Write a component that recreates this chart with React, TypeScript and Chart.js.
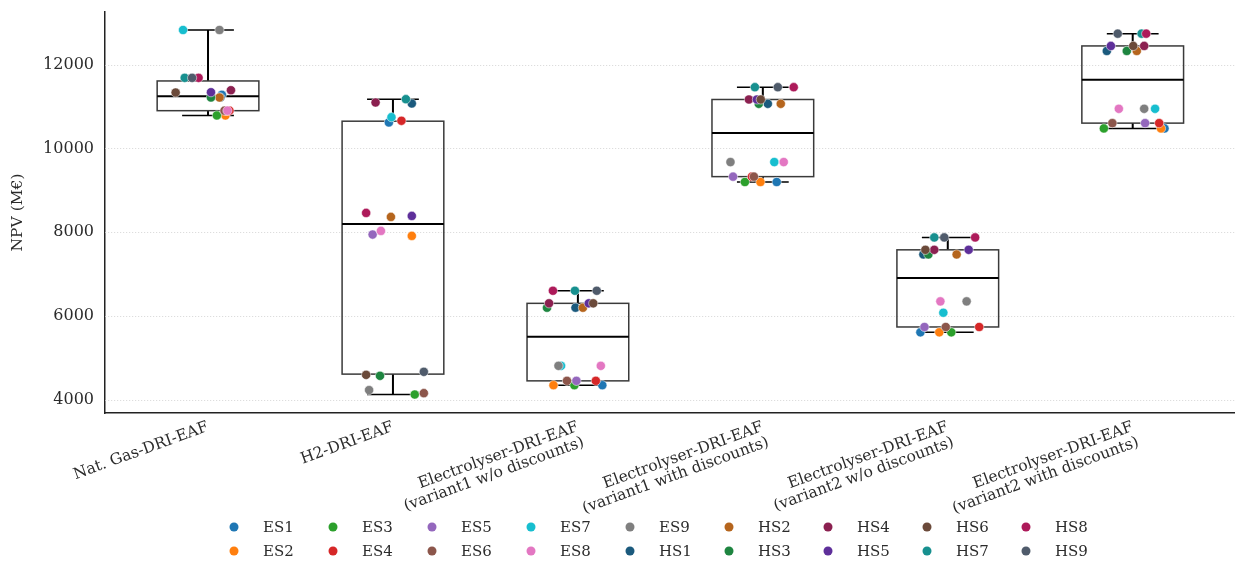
import React, { useEffect, useRef } from "react";
import { Chart, registerables } from "chart.js";

Chart.register(...registerables);

// ---------- data ----------
const CATEGORIES: string[][] = [
  ["Nat. Gas-DRI-EAF"],
  ["H2-DRI-EAF"],
  ["Electrolyser-DRI-EAF", "(variant1 w/o discounts)"],
  ["Electrolyser-DRI-EAF", "(variant1 with discounts)"],
  ["Electrolyser-DRI-EAF", "(variant2 w/o discounts)"],
  ["Electrolyser-DRI-EAF", "(variant2 with discounts)"],
];

const SCENARIOS = [
  "ES1", "ES2", "ES3", "ES4", "ES5", "ES6", "ES7", "ES8", "ES9",
  "HS1", "HS2", "HS3", "HS4", "HS5", "HS6", "HS7", "HS8", "HS9",
];

// NPV (M€) per scenario, one value per category (same order as CATEGORIES)
const ES1 = [11278, 10619, 4349, 9198, 5611, 10476];
const ES2 = [10786, 7912, 4349, 9198, 5611, 10476];
const ES3 = [10786, 4126, 4349, 9198, 5611, 10476];
const ES4 = [10900, 10659, 4452, 9326, 5738, 10603];
const ES5 = [10900, 7944, 4452, 9326, 5738, 10603];
const ES6 = [10900, 4159, 4452, 9326, 5738, 10603];
const ES7 = [12826, 10745, 4810, 9674, 6078, 10945];
const ES8 = [10900, 8031, 4810, 9674, 6349, 10945];
const ES9 = [12826, 4231, 4810, 9674, 6349, 10945];
const HS1 = [11214, 11071, 6198, 11064, 7469, 12326];
const HS2 = [11214, 8365, 6198, 11064, 7469, 12326];
const HS3 = [11214, 4572, 6198, 11064, 7469, 12326];
const HS4 = [11388, 11095, 6302, 11167, 7579, 12445];
const HS5 = [11340, 8388, 6302, 11167, 7579, 12445];
const HS6 = [11333, 4595, 6302, 11167, 7579, 12445];
const HS7 = [11683, 11174, 6603, 11460, 7874, 12738];
const HS8 = [11683, 8460, 6603, 11460, 7874, 12738];
const HS9 = [11683, 4667, 6603, 11460, 7874, 12738];

const VALUES = [ES1, ES2, ES3, ES4, ES5, ES6, ES7, ES8, ES9, HS1, HS2, HS3, HS4, HS5, HS6, HS7, HS8, HS9];

const Y_TICKS = [4000, 6000, 8000, 10000, 12000];

// ---------- styles / positions ----------
const COLORS = [
  "#1f77b4", "#ff7f0e", "#2ca02c", "#d62728", "#9467bd", "#8c564b", "#17becf", "#e377c2", "#7f7f7f",
  "#1b5a7d", "#b5651d", "#1e8540", "#8b2050", "#5e2f9a", "#6b4a3a", "#17908f", "#ad1a5a", "#4f5b6b",
];

// strip-plot horizontal jitter (category units)
const JITTER = [
  [0.075, -0.022, 0.132, 0.075, -0.148, 0.172],
  [0.094, 0.102, -0.132, -0.013, -0.046, 0.153],
  [0.048, 0.118, -0.019, -0.097, 0.019, -0.156],
  [0.116, 0.046, 0.097, -0.059, 0.170, 0.143],
  [0.097, -0.110, -0.008, -0.161, -0.126, 0.067],
  [0.089, 0.167, -0.059, -0.048, -0.011, -0.110],
  [-0.135, -0.008, -0.091, 0.062, -0.024, 0.121],
  [0.105, -0.065, 0.124, 0.113, -0.040, -0.075],
  [0.062, -0.129, -0.105, -0.175, 0.102, 0.062],
  [0.067, 0.102, -0.013, 0.027, -0.132, -0.140],
  [0.062, -0.011, 0.027, 0.097, 0.048, 0.022],
  [0.016, -0.070, -0.167, -0.022, -0.105, -0.032],
  [0.124, -0.094, -0.156, -0.075, -0.073, 0.062],
  [0.016, 0.102, 0.059, -0.032, 0.113, -0.118],
  [-0.175, -0.145, 0.083, -0.011, -0.121, 0.003],
  [-0.126, 0.070, -0.016, -0.043, -0.073, 0.048],
  [-0.051, -0.145, -0.135, 0.167, 0.148, 0.073],
  [-0.086, 0.167, 0.102, 0.081, -0.019, -0.081],
];

const FONT = "'DejaVu Serif', serif";
const TEXT_COLOR = "#2b2b2b";
const BOX_HALF = 0.275;
const CAP_HALF = 0.14;

function quantile(sorted: number[], p: number): number {
  const pos = (sorted.length - 1) * p;
  const lo = Math.floor(pos);
  const hi = Math.ceil(pos);
  return sorted[lo] + (sorted[hi] - sorted[lo]) * (pos - lo);
}

function boxStats(ci: number) {
  const vals = VALUES.map((s) => s[ci]).sort((a, b) => a - b);
  return {
    min: vals[0],
    q1: quantile(vals, 0.25),
    med: quantile(vals, 0.5),
    q3: quantile(vals, 0.75),
    max: vals[vals.length - 1],
  };
}

const boxPlugin = {
  id: "boxPlugin",
  beforeDatasetsDraw(chart: any) {
    const { ctx, chartArea } = chart;
    const xs = chart.scales.x;
    const ys = chart.scales.y;
    ctx.save();
    // dotted horizontal grid
    ctx.strokeStyle = "#d4d4d4";
    ctx.lineWidth = 0.8;
    ctx.setLineDash([1.2, 1.8]);
    ys.ticks.forEach((t: any) => {
      const py = Math.round(ys.getPixelForValue(t.value)) + 0.5;
      ctx.beginPath();
      ctx.moveTo(chartArea.left, py);
      ctx.lineTo(chartArea.right, py);
      ctx.stroke();
    });
    ctx.setLineDash([]);
    CATEGORIES.forEach((_, ci) => {
      const s = boxStats(ci);
      const cx = xs.getPixelForValue(ci);
      const l = xs.getPixelForValue(ci - BOX_HALF);
      const r = xs.getPixelForValue(ci + BOX_HALF);
      const cl = xs.getPixelForValue(ci - CAP_HALF);
      const cr = xs.getPixelForValue(ci + CAP_HALF);
      const yq1 = ys.getPixelForValue(s.q1);
      const yq3 = ys.getPixelForValue(s.q3);
      const ymed = ys.getPixelForValue(s.med);
      const ymin = ys.getPixelForValue(s.min);
      const ymax = ys.getPixelForValue(s.max);
      // whiskers
      ctx.strokeStyle = "#000000";
      ctx.lineWidth = 2;
      ctx.beginPath();
      ctx.moveTo(cx, yq3);
      ctx.lineTo(cx, ymax);
      ctx.moveTo(cx, yq1);
      ctx.lineTo(cx, ymin);
      ctx.stroke();
      ctx.lineWidth = 1.5;
      ctx.beginPath();
      ctx.moveTo(cl, ymax);
      ctx.lineTo(cr, ymax);
      ctx.moveTo(cl, ymin);
      ctx.lineTo(cr, ymin);
      ctx.stroke();
      // box
      ctx.strokeStyle = "#3a3a3a";
      ctx.lineWidth = 1.5;
      ctx.strokeRect(l, yq3, r - l, yq1 - yq3);
      // median
      ctx.strokeStyle = "#000000";
      ctx.lineWidth = 2;
      ctx.beginPath();
      ctx.moveTo(l, ymed);
      ctx.lineTo(r, ymed);
      ctx.stroke();
    });
    ctx.restore();
  },
};

const legendPlugin = {
  id: "gridLegend",
  afterDraw(chart: any) {
    const { ctx, height } = chart;
    ctx.save();
    ctx.font = `15px ${FONT}`;
    ctx.textBaseline = "middle";
    ctx.textAlign = "left";
    SCENARIOS.forEach((name, k) => {
      const col = Math.floor(k / 2);
      const row = k % 2;
      const mx = 234 + col * 99;
      const my = height - 39 + row * 24;
      ctx.fillStyle = COLORS[k];
      ctx.beginPath();
      ctx.arc(mx, my, 4.5, 0, Math.PI * 2);
      ctx.fill();
      ctx.fillStyle = TEXT_COLOR;
      ctx.fillText(name, mx + 29, my + 1);
    });
    ctx.restore();
  },
};

export default function App() {
  const canvasRef = useRef<HTMLCanvasElement | null>(null);

  useEffect(() => {
    document.body.style.margin = "0";
    const canvas = canvasRef.current;
    if (!canvas) return;

    const datasets = SCENARIOS.map((name, si) => ({
      label: name,
      data: VALUES[si].map((v, ci) => ({ x: ci + JITTER[si][ci], y: v })),
      backgroundColor: COLORS[si],
      borderColor: "rgba(255,255,255,0.85)",
      borderWidth: 0.6,
      pointRadius: 4.6,
      pointHoverRadius: 4.6,
      order: SCENARIOS.length - si,
    }));

    const chart = new Chart(canvas, {
      type: "scatter",
      data: { datasets },
      plugins: [boxPlugin, legendPlugin],
      options: {
        animation: false,
        responsive: false,
        maintainAspectRatio: false,
        layout: { padding: { top: 12, right: 0, bottom: 33, left: 0 } },
        plugins: {
          legend: { display: false },
          tooltip: { enabled: false },
        },
        scales: {
          x: {
            type: "linear",
            min: -0.557,
            max: 5.552,
            afterBuildTicks: (scale: any) => {
              scale.ticks = CATEGORIES.map((_, i) => ({ value: i }));
            },
            afterFit: (scale: any) => {
              scale.height = 120;
              scale.paddingLeft = 0;
              scale.paddingRight = 0;
            },
            grid: { display: false, drawTicks: false },
            border: { display: true, color: "#222222", width: 1.5 },
            ticks: {
              autoSkip: false,
              minRotation: 20,
              maxRotation: 20,
              padding: 6,
              color: TEXT_COLOR,
              font: { family: FONT, size: 15.5, lineHeight: 1.05 },
              callback: (v: any) => CATEGORIES[Math.round(Number(v))] ?? "",
            },
          },
          y: {
            type: "linear",
            min: 3685,
            max: 13255,
            afterBuildTicks: (scale: any) => {
              scale.ticks = Y_TICKS.map((v) => ({ value: v }));
            },
            afterFit: (scale: any) => {
              scale.width = 105;
              scale.paddingTop = 0;
              scale.paddingBottom = 0;
            },
            grid: { display: false, drawTicks: false },
            border: { display: true, color: "#222222", width: 1.5 },
            ticks: {
              padding: 11,
              color: TEXT_COLOR,
              font: { family: FONT, size: 16 },
              callback: (v: any) => String(v),
            },
            title: {
              display: true,
              text: "NPV (M€)",
              color: TEXT_COLOR,
              font: { family: FONT, size: 15.5 },
              padding: { top: 9, bottom: 0 },
            },
          },
        },
      },
    });

    return () => chart.destroy();
  }, []);

  return (
    <div style={{ width: 1240, height: 566 }}>
      <canvas ref={canvasRef} width={1240} height={566} style={{ display: "block" }} />
    </div>
  );
}
